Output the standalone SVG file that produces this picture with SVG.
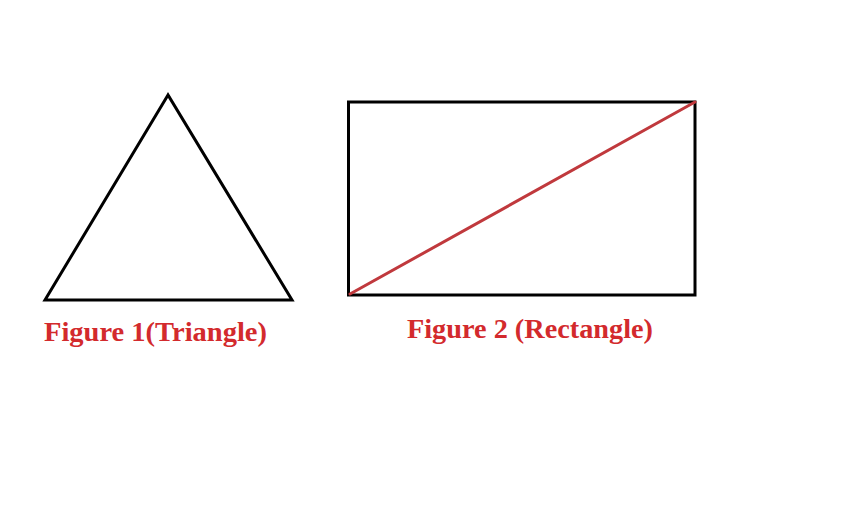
<svg xmlns="http://www.w3.org/2000/svg" width="857" height="508" viewBox="0 0 857 508">
<style>
.shape{fill:none;stroke:#000;stroke-width:3;stroke-linejoin:miter}
.diag{stroke:#c0393d;stroke-width:3;stroke-linecap:round}
.label{font-family:"Liberation Serif",serif;font-weight:bold;font-size:27px;fill:#d32a2d}
</style>
<rect width="857" height="508" fill="#fff"/>
<g id="triangle">
<polygon class="shape" points="168,95 45,300 292,300"/>
<text class="label" x="44" y="341" textLength="223" lengthAdjust="spacingAndGlyphs">Figure 1(Triangle)</text>
</g>
<g id="rectangle">
<rect class="shape" x="348.5" y="102" width="346.5" height="193"/>
<line class="diag" x1="350" y1="294" x2="695" y2="102"/>
<text class="label" x="407" y="338" textLength="246" lengthAdjust="spacingAndGlyphs">Figure 2 (Rectangle)</text>
</g>
</svg>
